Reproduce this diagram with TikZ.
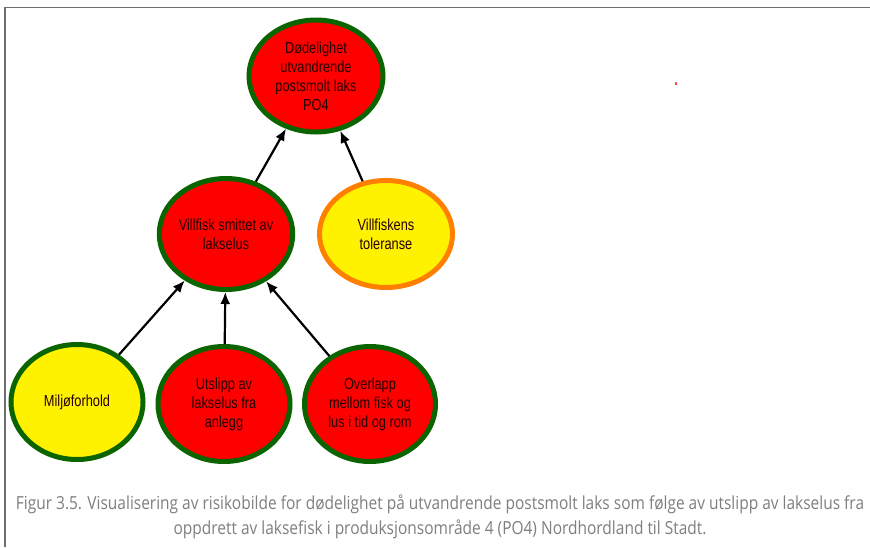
\documentclass[tikz,border=0pt]{standalone}
\usepackage{fontspec}
\setmainfont{Liberation Sans}
\newfontfamily\nodefont[FakeStretch=0.8]{Liberation Sans}
\newfontfamily\capfont[FakeStretch=0.86]{Open Sans}
\usetikzlibrary{shapes.geometric,arrows.meta}
\definecolor{ngreen}{HTML}{0A6400}
\definecolor{norange}{HTML}{FF8000}
\definecolor{nred}{HTML}{FF0000}
\definecolor{nyellow}{HTML}{FFF200}
\definecolor{captxt}{HTML}{7F7F7F}
\definecolor{framec}{HTML}{6E6E6E}
\begin{document}
\begin{tikzpicture}[x=1pt,y=-1pt,
  riskbox/.style={ellipse,line width=5pt,inner sep=0pt,align=center,
    font=\nodefont\fontsize{16}{19}\selectfont,text=black!85!red},
  redbox/.style={riskbox,draw=ngreen,fill=nred},
  yelbox/.style={riskbox,draw=ngreen,fill=nyellow},
  orgbox/.style={riskbox,draw=norange,fill=nyellow},
  link/.style={line width=2.2pt,-{Latex[length=12pt,width=10pt]}},
  capt/.style={text=captxt,font=\capfont\fontsize{18}{25}\selectfont,align=center}]
\useasboundingbox (0,0) rectangle (870,547);
\fill[white] (0,0) rectangle (870,547);
\draw[framec,line width=1.5pt] (5,547) -- (5,7.5) -- (870,7.5);
\node[redbox,minimum width=134pt,minimum height=112pt] (top) at (316,76)
  {Dødelighet\\utvandrende\\postsmolt laks\\PO4};
\node[redbox,minimum width=133pt,minimum height=111pt] (vill) at (226,234)
  {Villfisk smittet av\\lakselus};
\node[orgbox,minimum width=133pt,minimum height=107pt] (tol) at (386,234)
  {Villfiskens\\toleranse};
\node[yelbox,minimum width=132pt,minimum height=115pt] (milj) at (77,402)
  {Miljøforhold};
\node[redbox,minimum width=132pt,minimum height=115pt] (utsl) at (224,404)
  {Utslipp av\\lakselus fra\\anlegg};
\node[redbox,minimum width=131pt,minimum height=115pt] (over) at (370,404)
  {Overlapp\\mellom fisk og\\lus i tid og rom};
\draw[link] (vill) -- (top);
\draw[link] (tol) -- (top);
\draw[link] (milj) -- (vill);
\draw[link] (utsl) -- (vill);
\draw[link] (over) -- (vill);
\fill[nred!70] (675,82) rectangle (677,85);
\node[capt] (cap) at (440,517) {Figur 3.5. Visualisering av risikobilde for dødelighet på utvandrende postsmolt laks som følge av utslipp av lakselus fra\\oppdrett av laksefisk i produksjonsområde 4 (PO4) Nordhordland til Stadt.};
\end{tikzpicture}
\end{document}
